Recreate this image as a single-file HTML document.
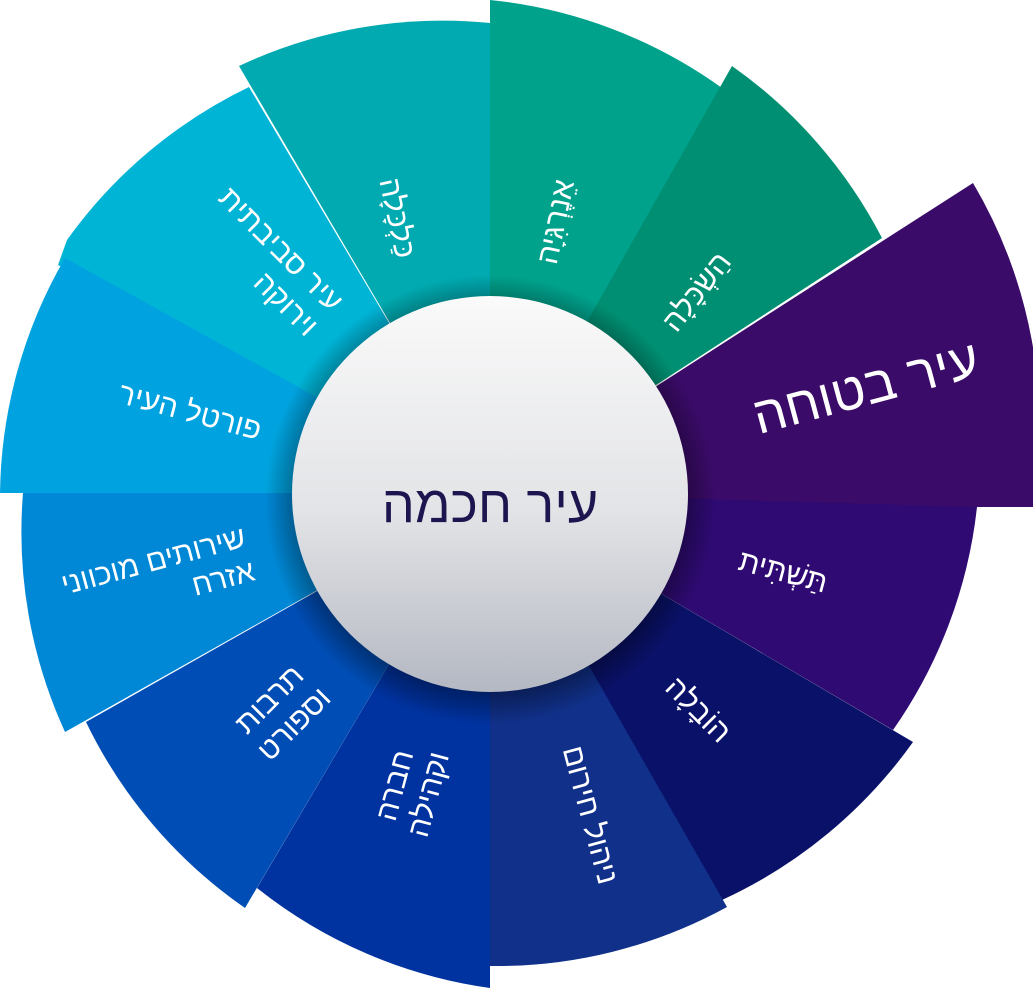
<!DOCTYPE html>
<html><head><meta charset="utf-8"><style>
html,body{margin:0;padding:0;background:#fff;}
#w{position:relative;width:1033px;height:988px;overflow:hidden;font-family:"Liberation Sans","Noto Sans CJK SC",sans-serif;}
.t{position:absolute;color:#fff;direction:rtl;text-align:right;white-space:nowrap;font-size:30px;line-height:35px;transform-origin:center;}
</style></head><body><div id="w">
<svg width="1033" height="988" style="position:absolute;left:0;top:0">
<defs>
<radialGradient id="sh" cx="490" cy="500" r="225" gradientUnits="userSpaceOnUse">
<stop offset="0.82" stop-color="#000" stop-opacity="0.45"/><stop offset="1" stop-color="#000" stop-opacity="0"/></radialGradient>
<linearGradient id="cg" x1="0" y1="0" x2="0" y2="1"><stop offset="0" stop-color="#fafafa"/><stop offset="0.55" stop-color="#e2e3e6"/><stop offset="1" stop-color="#b4b8c2"/></linearGradient>
</defs>
<path d="M490 493 L490 0 A480 480 0 0 1 722 88 Z" fill="#00a28c"/>
<path d="M490 493 L732 66 A480 480 0 0 1 882 238 Z" fill="#008f72"/>
<path d="M490 493 L973 183 A480 480 0 0 1 1033 507 L690 507 Z" fill="#3a0b68"/>
<path d="M490 493 L977 507 A480 480 0 0 1 893 730 Z" fill="#2e0a72"/>
<path d="M490 493 L913 742 A480 480 0 0 1 722 900 Z" fill="#0a1168"/>
<path d="M490 493 L727 907 A480 480 0 0 1 490 966 Z" fill="#10308a"/>
<path d="M490 493 L490 988 A480 480 0 0 1 257 888 Z" fill="#0032a0"/>
<path d="M490 493 L245 908 A480 480 0 0 1 86 722 Z" fill="#004db5"/>
<path d="M490 493 L65 732 A480 480 0 0 1 23 493 Z" fill="#0088d6"/>
<path d="M490 493 L58 265 L67 240 A480 480 0 0 1 249 87 Z" fill="#00b4d6"/>
<path d="M490 493 L0 493 A480 480 0 0 1 65 258 Z" fill="#00a3df"/>
<path d="M490 493 L239 66 A480 480 0 0 1 490 23 Z" fill="#00aab0"/>
<circle cx="490" cy="500" r="225" fill="url(#sh)"/>
<circle cx="490" cy="494" r="198" fill="url(#cg)"/>
</svg>
<div class="t" style="left:490px;top:505px;transform:translate(-50%,-50%);color:#1c1550;font-size:52px;line-height:60px">עיר חכמה</div>
<div class="t" style="left:556px;top:222px;transform:translate(-50%,-50%) rotate(-78deg)">אֵנֶרְגִּיָה</div>
<div class="t" style="left:697px;top:292px;transform:translate(-50%,-50%) rotate(-52deg)">הַשְׂכָּלָה</div>
<div class="t" style="left:866px;top:388px;transform:translate(-50%,-50%) rotate(-15deg);font-size:52px;line-height:58px">עיר בטוחה</div>
<div class="t" style="left:783px;top:572px;transform:translate(-50%,-50%) rotate(15deg)">תַּשְׁתִּית</div>
<div class="t" style="left:698px;top:710px;transform:translate(-50%,-50%) rotate(45deg)">הוֹבָלָה</div>
<div class="t" style="left:590px;top:815px;transform:translate(-50%,-50%) rotate(75deg)">ניהול חירום</div>
<div class="t" style="left:412px;top:790px;transform:translate(-50%,-50%) rotate(-75deg);text-align:center">חברה<br>וקהילה</div>
<div class="t" style="left:282px;top:712px;transform:translate(-50%,-50%) rotate(-45deg);text-align:center">תרבות<br>וספורט</div>
<div class="t" style="left:158px;top:578px;transform:translate(-50%,-50%) rotate(-15deg)">שירותים מוכווני<br>אזרח</div>
<div class="t" style="left:190px;top:412px;transform:translate(-50%,-50%) rotate(15deg)">פורטל העיר</div>
<div class="t" style="left:268px;top:262px;transform:translate(-50%,-50%) rotate(45deg)">עיר סביבתית<br>וירוקה</div>
<div class="t" style="left:397px;top:218px;transform:translate(-50%,-50%) rotate(78deg)">כַּלְכָּלָה</div>
</div></body></html>
